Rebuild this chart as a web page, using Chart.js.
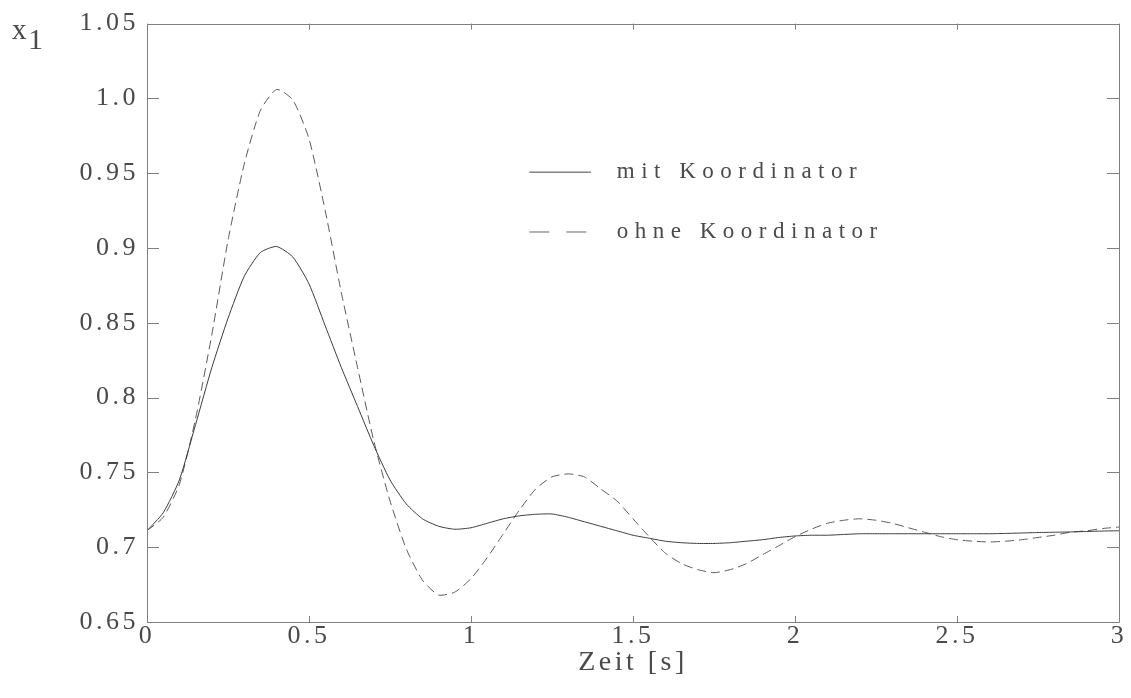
<!DOCTYPE html>
<html>
<head>
<meta charset="utf-8">
<script src="https://cdn.jsdelivr.net/npm/chart.js@4"></script>
<style>
  html, body { margin: 0; padding: 0; background: #fff; }
  #wrap { width: 1131px; height: 698px; position: relative; }
</style>
</head>
<body>
<div id="wrap"><canvas id="x1Chart"></canvas></div>
<script>
// Zeitachse (s) und Verlauf von x1 mit / ohne Koordinator
const zeit = [
  0.00, 0.05, 0.10, 0.15, 0.20, 0.25, 0.30, 0.35, 0.40, 0.45,
  0.50, 0.55, 0.60, 0.65, 0.70, 0.75, 0.80, 0.85, 0.90, 0.95,
  1.00, 1.05, 1.10, 1.15, 1.20, 1.25, 1.30, 1.35, 1.40, 1.45,
  1.50, 1.55, 1.60, 1.65, 1.70, 1.75, 1.80, 1.85, 1.90, 1.95,
  2.00, 2.05, 2.10, 2.15, 2.20, 2.25, 2.30, 2.35, 2.40, 2.45,
  2.50, 2.55, 2.60, 2.65, 2.70, 2.75, 2.80, 2.85, 2.90, 2.95, 3.00
];
const mitKoordinator = [
  0.711, 0.723, 0.745, 0.782, 0.820, 0.853, 0.881, 0.897, 0.901, 0.894,
  0.876, 0.848, 0.820, 0.794, 0.768, 0.745, 0.729, 0.719, 0.714, 0.712,
  0.713, 0.716, 0.719, 0.721, 0.722, 0.7222, 0.720, 0.717, 0.714, 0.711,
  0.708, 0.706, 0.704, 0.703, 0.7025, 0.7025, 0.703, 0.704, 0.705, 0.7065,
  0.7075, 0.708, 0.708, 0.7085, 0.709, 0.709, 0.709, 0.709, 0.709, 0.709,
  0.709, 0.709, 0.709, 0.7092, 0.7095, 0.7098, 0.710, 0.7102, 0.7105, 0.7108, 0.711
];
const ohneKoordinator = [
  0.711, 0.720, 0.742, 0.786, 0.842, 0.905, 0.956, 0.992, 1.006, 0.999,
  0.973, 0.925, 0.870, 0.820, 0.771, 0.731, 0.699, 0.678, 0.668, 0.670,
  0.679, 0.693, 0.709, 0.725, 0.739, 0.747, 0.749, 0.747, 0.739, 0.731,
  0.719, 0.707, 0.696, 0.689, 0.685, 0.683, 0.685, 0.689, 0.695, 0.701,
  0.707, 0.712, 0.716, 0.718, 0.719, 0.718, 0.716, 0.713, 0.710, 0.707,
  0.705, 0.704, 0.7035, 0.704, 0.705, 0.7065, 0.708, 0.710, 0.711, 0.7125, 0.7135
];
const xTickLabels = ['0', '0.5', '1', '1.5', '2', '2.5', '3'];
const yTickLabels = ['0.65', '0.7', '0.75', '0.8', '0.85', '0.9', '0.95', '1.0', '1.05'];
const serienNamen = ['mit Koordinator', 'ohne Koordinator'];

const FONT = '"Liberation Serif", "DejaVu Serif", serif';
const AXIS_COLOR = '#808080';
const TEXT_COLOR = '#4a4a4a';

function punkte(werte) {
  return zeit.map((t, i) => ({ x: t, y: werte[i] }));
}

// Sperrung der Schrift wie im Original (breite Plotter-Schrift)
const spacingPlugin = {
  id: 'spacing',
  beforeDraw(chart) {
    chart.ctx.letterSpacing = '3.5px';
  }
};

// Rahmen mit Innen-Ticks auf allen vier Seiten, Legende und y-Beschriftung
const framePlugin = {
  id: 'frame',
  afterDraw(chart) {
    const ctx = chart.ctx;
    const { left, right, top, bottom } = chart.chartArea;
    const xs = chart.scales.x, ys = chart.scales.y;
    ctx.save();
    ctx.letterSpacing = '0px';
    ctx.strokeStyle = AXIS_COLOR;
    ctx.lineWidth = 1;
    ctx.setLineDash([]);
    ctx.beginPath();
    ctx.rect(Math.round(left) + 0.5, Math.round(top) + 0.5, Math.round(right - left), Math.round(bottom - top));
    ctx.stroke();
    ctx.beginPath();
    xs.ticks.forEach(t => {
      const px = Math.round(xs.getPixelForValue(t.value)) + 0.5;
      ctx.moveTo(px, bottom); ctx.lineTo(px, bottom - 6);
      ctx.moveTo(px, top); ctx.lineTo(px, top + 6);
    });
    ys.ticks.forEach(t => {
      const py = Math.round(ys.getPixelForValue(t.value)) + 0.5;
      ctx.moveTo(left, py); ctx.lineTo(left + 12, py);
      ctx.moveTo(right, py); ctx.lineTo(right - 12, py);
    });
    ctx.stroke();

    // Legende im Diagramm
    const lx0 = xs.getPixelForValue(1.18), lx1 = xs.getPixelForValue(1.37);
    const tx = xs.getPixelForValue(1.45);
    const ly = [ys.getPixelForValue(0.9507), ys.getPixelForValue(0.9107)];
    ctx.strokeStyle = '#444';
    ctx.beginPath(); ctx.moveTo(lx0, ly[0]); ctx.lineTo(lx1, ly[0]); ctx.stroke();
    ctx.strokeStyle = '#666';
    ctx.setLineDash([20, 17]);
    ctx.beginPath(); ctx.moveTo(lx0, ly[1]); ctx.lineTo(lx1 + 2, ly[1]); ctx.stroke();
    ctx.setLineDash([]);
    ctx.fillStyle = TEXT_COLOR;
    ctx.font = '23px ' + FONT;
    ctx.letterSpacing = '6.5px';
    ctx.textBaseline = 'middle';
    ctx.textAlign = 'left';
    ctx.fillText(serienNamen[0], tx, ly[0]);
    ctx.fillText(serienNamen[1], tx, ly[1]);

    // y-Achsenbezeichnung x1
    ctx.letterSpacing = '0px';
    ctx.textBaseline = 'alphabetic';
    ctx.font = '29px ' + FONT;
    ctx.fillText('x', 12, 39);
    ctx.font = '30px ' + FONT;
    ctx.fillText('1', 28, 49);
    ctx.restore();
  }
};

new Chart(document.getElementById('x1Chart'), {
  type: 'line',
  data: {
    datasets: [
      {
        label: serienNamen[0],
        data: punkte(mitKoordinator),
        borderColor: '#3c3c3c',
        borderWidth: 1,
        pointRadius: 0,
        tension: 0.2,
        fill: false
      },
      {
        label: serienNamen[1],
        data: punkte(ohneKoordinator),
        borderColor: '#5a5a5a',
        borderWidth: 1,
        borderDash: [9, 5],
        pointRadius: 0,
        tension: 0.2,
        fill: false
      }
    ]
  },
  options: {
    responsive: true,
    maintainAspectRatio: false,
    animation: false,
    layout: { padding: { left: 0, top: 22, right: 12, bottom: 21 } },
    plugins: {
      legend: { display: false },
      tooltip: { enabled: false }
    },
    scales: {
      x: {
        type: 'linear',
        min: 0,
        max: 3,
        grid: { display: false, drawTicks: false },
        border: { display: false },
        ticks: {
          stepSize: 0.5,
          color: TEXT_COLOR,
          font: { family: FONT, size: 26, lineHeight: 1 },
          padding: 1,
          maxRotation: 0,
          autoSkip: false,
          callback: (v, i) => xTickLabels[i]
        },
        title: {
          display: true,
          text: 'Zeit [s]',
          color: TEXT_COLOR,
          font: { family: FONT, size: 28, lineHeight: 1 },
          padding: { top: -1, bottom: 0 }
        }
      },
      y: {
        min: 0.65,
        max: 1.05,
        grid: { display: false, drawTicks: false },
        border: { display: false },
        ticks: {
          stepSize: 0.05,
          color: TEXT_COLOR,
          font: { family: FONT, size: 26 },
          padding: 8,
          callback: (v, i) => yTickLabels[i]
        },
        afterFit: s => { s.width = 147; }
      }
    }
  },
  plugins: [spacingPlugin, framePlugin]
});
</script>
</body>
</html>
